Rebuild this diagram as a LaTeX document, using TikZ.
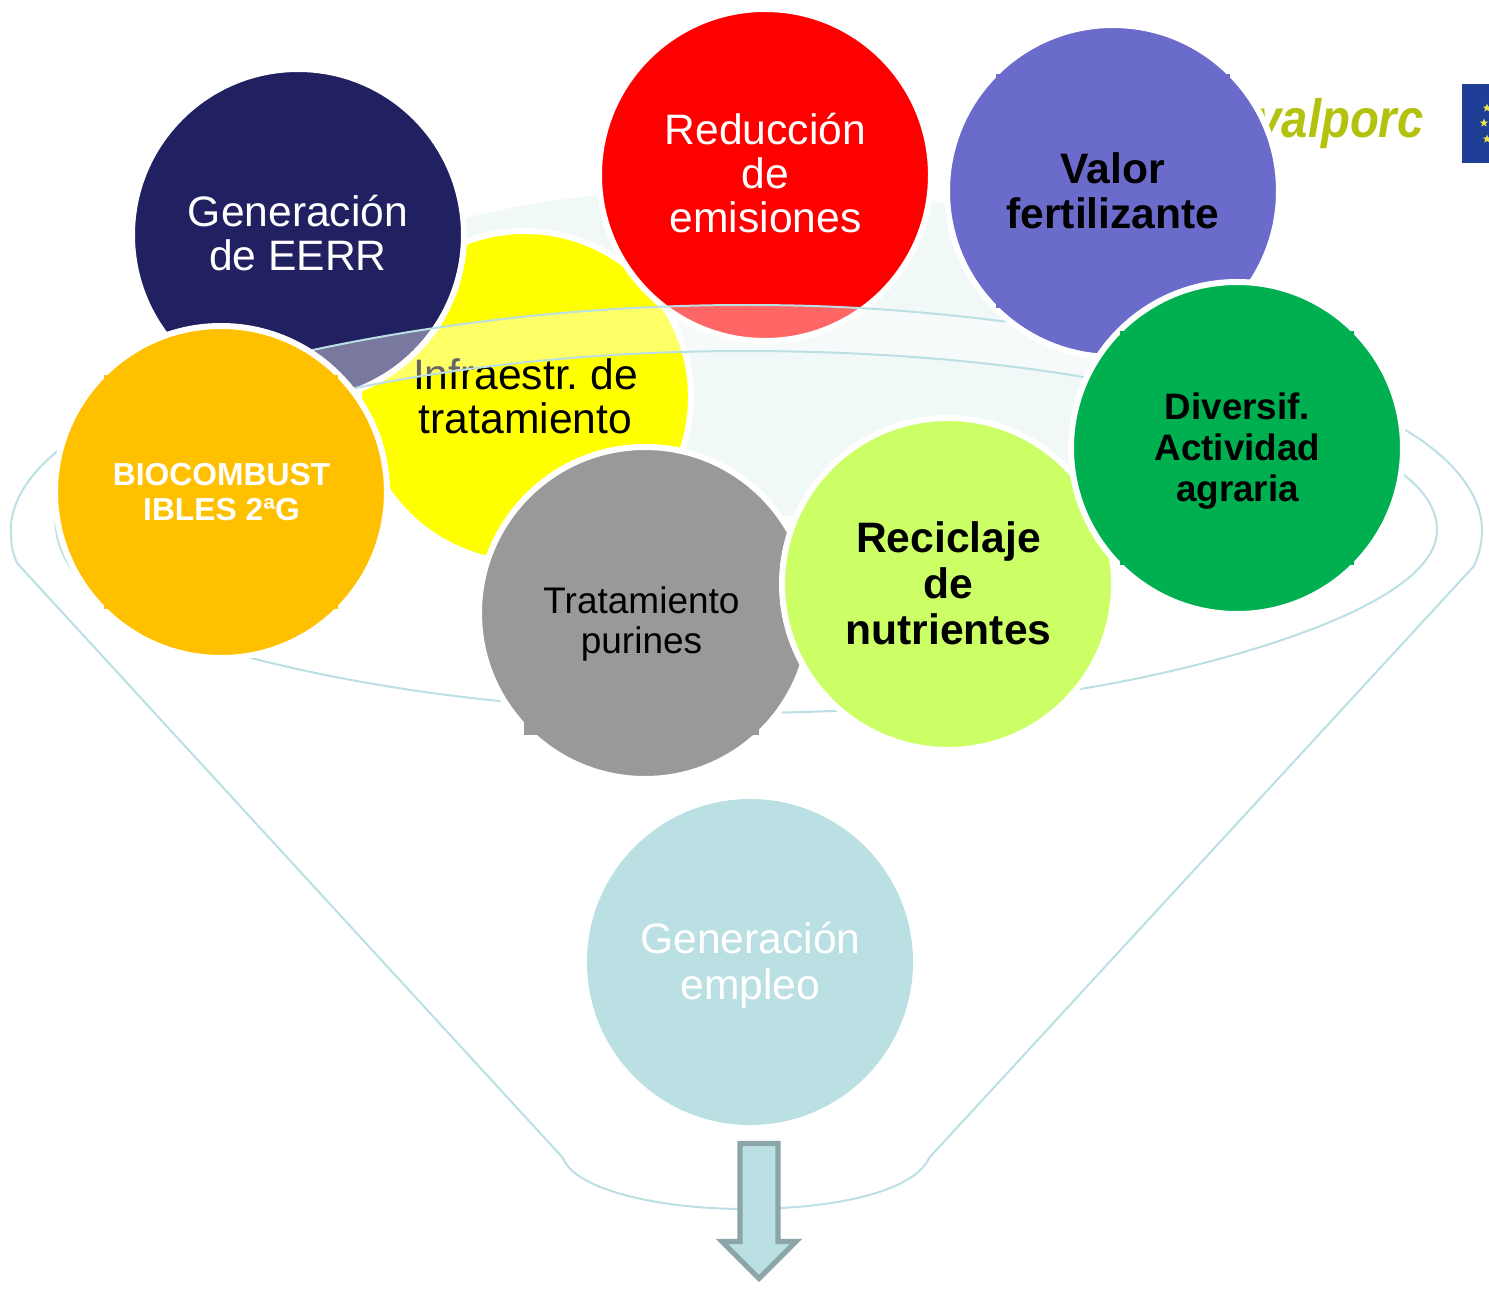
\documentclass[tikz,border=0pt]{standalone}
\usepackage{fontspec}
\setmainfont{Liberation Sans}
\usetikzlibrary{shapes.geometric}
\AtBeginDocument{\frenchspacing}
\definecolor{cnavy}{HTML}{212060}
\definecolor{cred}{HTML}{FF0000}
\definecolor{cpurple}{HTML}{6B6BCC}
\definecolor{cgreen}{HTML}{00B050}
\definecolor{clime}{HTML}{CCFF66}
\definecolor{cgray}{HTML}{999999}
\definecolor{corange}{HTML}{FFC000}
\definecolor{cyellow}{HTML}{FFFF00}
\definecolor{cteal}{HTML}{BBE0E3}
\definecolor{cpale}{HTML}{F0F8F8}
\definecolor{carrow}{HTML}{8BA5A8}
\definecolor{clogo}{HTML}{B3C20F}
\definecolor{cflag}{HTML}{1F3F96}
\definecolor{cstar}{HTML}{E8E04A}
\tikzset{
  disc/.style={circle,draw=white,line width=3pt,minimum size=166pt,inner sep=0pt},
  lbl/.style={align=center,inner sep=0pt},
  big/.style={font=\fontsize{21.3}{22}\selectfont},
  outline/.style={draw=cteal,line width=1pt},
  flagstar/.style={star,star points=5,star point ratio=2.4,fill=cstar,inner sep=0pt,minimum size=4.5pt},
}
\newcommand{\cornerbits}[3]{%
  \fill[#3] (#1-117,#2-117) rectangle (#1-107,#2-107);
  \fill[#3] (#1+117,#2-117) rectangle (#1+107,#2-107);
  \fill[#3] (#1-117,#2+117) rectangle (#1-107,#2+107);
  \fill[#3] (#1+117,#2+117) rectangle (#1+107,#2+107);}
\begin{document}
\begin{tikzpicture}[x=0.5pt,y=-0.5pt]
\useasboundingbox (0,0) rectangle (1489,1289);
% logo and flag
\node[anchor=base east,inner sep=0pt,text=clogo,font=\fontsize{27}{27}\selectfont\bfseries\itshape] (logo) at (1424,138) {\scalebox{0.875}[1]{valporc}};
\fill[cflag] (1462,84) rectangle (1489,163);
\node[flagstar] (s1) at (1487,108) {};
\node[flagstar] (s2) at (1484,123) {};
\node[flagstar] (s3) at (1487,139) {};
% pale back of funnel
\fill[cpale] (500,516) -- (400,300) -- (466,218) .. controls (550,197) and (650,187) .. (750,187)
  .. controls (850,187) and (1000,200) .. (1100,250) -- (1150,516) -- cycle;
% funnel outlines
\draw[outline] (75,438) .. controls (35,465) and (8,500) .. (11,535) .. controls (11,548) and (14,556) .. (17,563)
  -- (563,1158) .. controls (575,1190) and (660,1209) .. (745,1209)
  .. controls (840,1209) and (915,1190) .. (929,1158) -- (1474,566)
  .. controls (1480,552) and (1482,542) .. (1482,530) .. controls (1482,490) and (1445,452) .. (1400,427);
\draw[outline] (56,505) .. controls (53,530) and (58,553) .. (78,578) .. controls (120,625) and (200,648) .. (251,658)
  .. controls (350,683) and (500,712) .. (745,713) .. controls (900,712) and (1040,697) .. (1080,689)
  .. controls (1200,670) and (1437,610) .. (1437,530) .. controls (1437,510) and (1425,490) .. (1400,472);
% rear circles
\node[disc,fill=cyellow] (yellow) at (525,397) {};
\node[lbl,big,text=black] (yellowt) at (525.5,396) {Infraestr. de\\tratamiento};
\node[disc,fill=cnavy] (navy) at (298,235) {};
\node[lbl,big,text=white] (navyt) at (298,233) {Generación\\de EERR};
\node[disc,fill=cred] (red) at (765,175) {};
\node[lbl,big,text=white] (redt) at (765.5,173) {Reducción\\de\\emisiones};
% translucent front band
\fill[white,fill opacity=0.4] (290,355) .. controls (400,330) and (560,305) .. (745,305)
  .. controls (840,305) and (940,310) .. (1100,335) -- (1100,380)
  .. controls (980,358) and (850,351) .. (745,351) .. controls (600,351) and (450,365) .. (300,400) -- cycle;
\draw[outline] (290,355) .. controls (400,330) and (560,305) .. (745,305) .. controls (840,305) and (940,310) .. (1100,335);
\draw[outline] (300,400) .. controls (450,365) and (600,351) .. (745,351) .. controls (850,351) and (980,358) .. (1100,380);
% front circles
\node[disc,fill=cpurple] (purple) at (1113,191) {};
\cornerbits{1113}{191}{cpurple}
\node[lbl,text=black,font=\fontsize{21.3}{22.5}\selectfont\bfseries] (purplet) at (1113,190.5) {Valor\\fertilizante};
\node[disc,fill=cgray] (gray) at (645,613) {};
\fill[cgray] (524,735) rectangle (560,712);
\fill[cgray] (759,735) rectangle (725,712);
\node[lbl,text=black,font=\fontsize{18.5}{20}\selectfont] (grayt) at (641.5,623.5) {Tratamiento\\purines};
\node[disc,fill=clime] (lime) at (948,584) {};
\node[lbl,text=black,font=\fontsize{21.3}{23}\selectfont\bfseries] (limet) at (948.5,583) {Reciclaje\\de\\nutrientes};
\node[disc,fill=cgreen] (green) at (1237,448) {};
\cornerbits{1237}{448}{cgreen}
\node[lbl,text=black,font=\fontsize{18.4}{20.3}\selectfont\bfseries] (greent) at (1237.5,451) {Diversif.\\Actividad\\agraria};
\node[disc,fill=corange] (orange) at (221,492) {};
\cornerbits{221}{492}{corange}
\node[lbl,text=white,font=\fontsize{15.9}{17.5}\selectfont\bfseries] (oranget) at (221.5,492) {BIOCOMBUST\\IBLES 2ªG};
\node[disc,fill=cteal,draw=none,minimum size=163pt] (teal) at (750,962) {};
\node[lbl,text=white,font=\fontsize{21.3}{23}\selectfont] (tealt) at (750.5,965) {Generación\\empleo};
% output arrow
\draw[fill=cteal,draw=carrow,line width=2.6pt] (740,1143.5) -- (778,1143.5) -- (778,1241.5) -- (796,1241.5)
  -- (759,1278.5) -- (722,1241.5) -- (740,1241.5) -- cycle;
\end{tikzpicture}
\end{document}
